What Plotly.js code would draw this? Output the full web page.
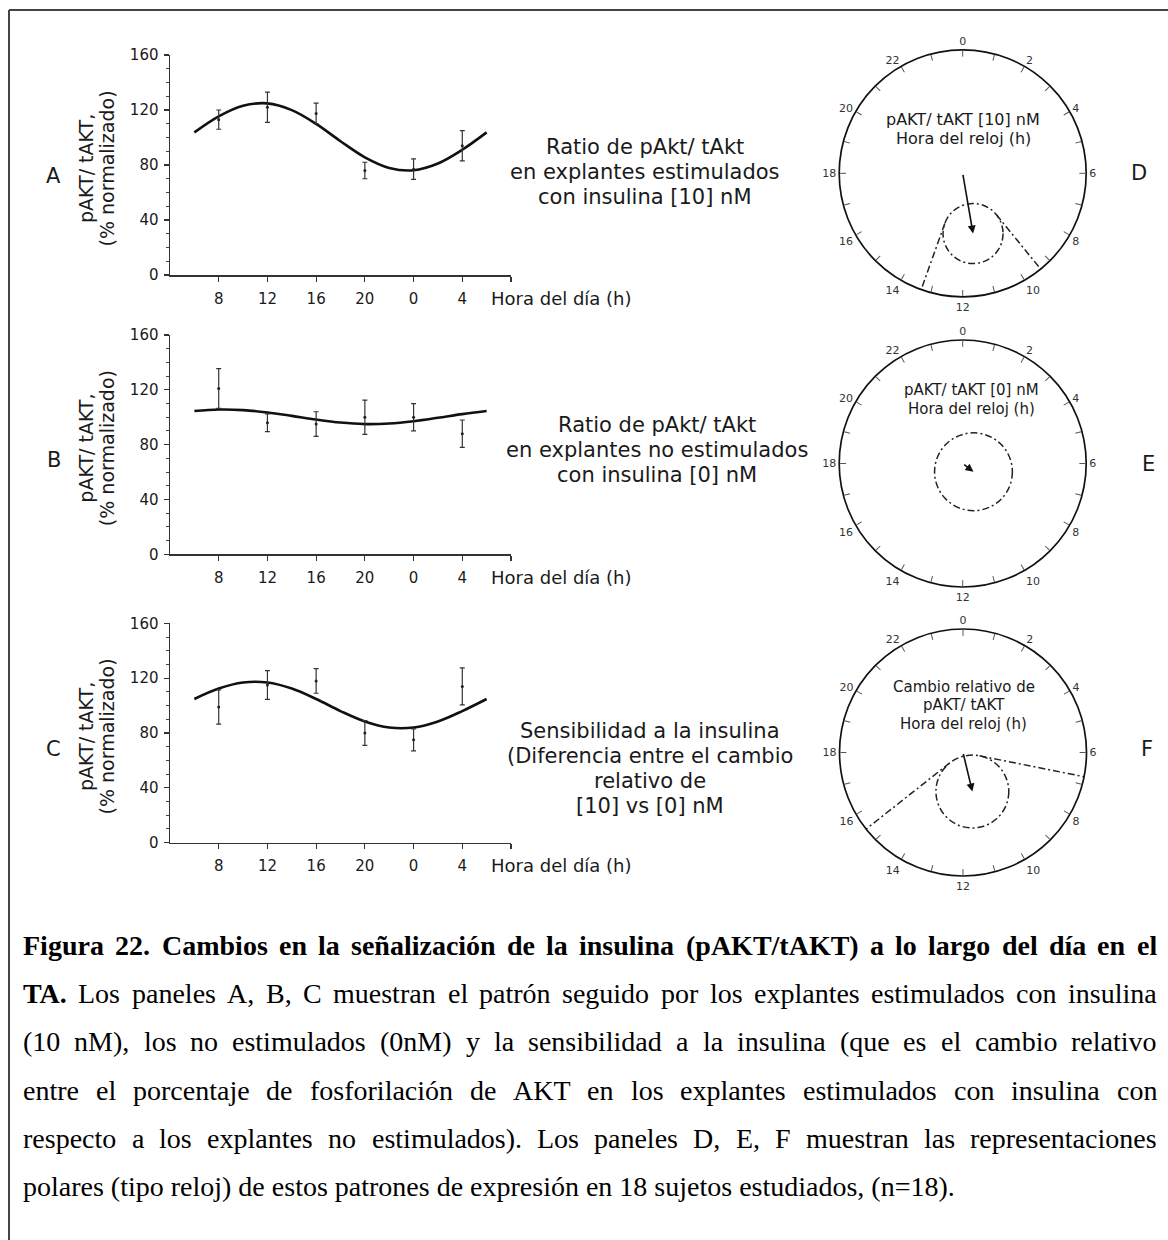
<!DOCTYPE html>
<html><head><meta charset="utf-8">
<script src="https://cdn.plot.ly/plotly-3.0.1.min.js"></script>
<style>html,body{margin:0;padding:0;background:#fff}#chart{width:1168px;height:1240px}</style>
</head><body><div id="chart"></div>
<script>
// ---------------- DATA ----------------
const sampleHours = [8, 12, 16, 20, 24, 28];
const hourLabels = ['8', '12', '16', '20', '0', '4'];
const fitHours = [6, 8, 10, 12, 14, 16, 18, 20, 22, 24, 26, 28, 30];

const fitA = [103.7, 115.4, 123.1, 124.8, 119.9, 109.9, 97.3, 85.6, 77.9, 76.2, 81.1, 91.1, 103.7];
const fitB = [104.5, 105.6, 105.2, 103.5, 101.0, 98.3, 96.1, 95.0, 95.4, 97.1, 99.6, 102.3, 104.5];
const fitC = [104.8, 112.4, 116.8, 116.8, 112.4, 104.8, 96.0, 88.4, 84.0, 84.0, 88.4, 96.0, 104.8];

const meanA = [113, 122, 117.5, 76, 77, 94];
const errA  = [7, 11, 7.5, 6, 7.5, 11];
const meanB = [121, 96, 95, 100, 100, 88];
const errB  = [14.5, 6.5, 9, 12.5, 10, 10];
const meanC = [99, 115, 118, 80, 75, 114];
const errC  = [12.5, 10.5, 9, 9, 8, 13.5];

const yTicks = [0, 40, 80, 120, 160];
const panelLetters = ['A', 'B', 'C'];
const yTitle1 = 'pAKT/ tAKT,';
const yTitle2 = '(% normalizado)';
const xTitle = 'Hora del día (h)';
const panelTexts = [
  ['Ratio de pAkt/ tAkt', 'en explantes estimulados', 'con insulina [10] nM'],
  ['Ratio de pAkt/ tAkt', 'en explantes no estimulados', 'con insulina [0] nM'],
  ['Sensibilidad a la insulina', '(Diferencia entre el cambio', 'relativo de', '[10] vs [0] nM']
];

// clock (polar) panels
const clockLetters = ['D', 'E', 'F'];
const clockHours = [0,1,2,3,4,5,6,7,8,9,10,11,12,13,14,15,16,17,18,19,20,21,22,23];
const clockHourText = ['0','','2','','4','','6','','8','','10','','12','','14','','16','','18','','20','','22',''];
const clockPhaseH = [11.35, 8.5, 11.1];     // acrophase (clock hour)
const clockLength = [0.495, 0.11, 0.325];   // vector length (fraction of radius)
const clockConf   = [0.243, 0.315, 0.295];  // confidence circle radius
const clockTexts = [
  ['pAKT/ tAKT [10] nM', 'Hora del reloj (h)'],
  ['pAKT/ tAKT [0] nM', 'Hora del reloj (h)'],
  ['Cambio relativo de', 'pAKT/ tAKT', 'Hora del reloj (h)']
];

// caption
const captionLines = [
  'Figura 22. Cambios en la señalización de la insulina (pAKT/tAKT) a lo largo del día en el',
  'TA. Los paneles A, B, C muestran el patrón seguido por los explantes estimulados con insulina',
  '(10 nM), los no estimulados (0nM) y la sensibilidad a la insulina (que es el cambio relativo',
  'entre el porcentaje de fosforilación de AKT en los explantes estimulados con insulina con',
  'respecto a los explantes no estimulados). Los paneles D, E, F muestran las representaciones',
  'polares (tipo reloj) de estos patrones de expresión en 18 sujetos estudiados, (n=18).'
];
const captionBoldWords = [99, 1, 0, 0, 0, 0];
const captionJustify = [true, true, true, true, true, false];

// ---------------- LAYOUT GEOMETRY ----------------
const W = 1168, H = 1240;
const px = x => x / W, py = y => 1 - y / H;
const TXT = '#1a1a1a';
const FONT = 'DejaVu Sans';

const leftX0 = 170, leftX1 = 511;
const leftBoxes = [ {top: 55, bottom: 275}, {top: 335, bottom: 554.3}, {top: 623.3, bottom: 842.7} ];
const textCenters = [ {x: 645, ys: [146.7, 171.7, 196.7]}, {x: 657, ys: [425, 450, 475]}, {x: 650, ys: [731, 756, 781, 806]} ];
const letterPos = [ {x: 53.5, y: 176}, {x: 53.5, y: 460}, {x: 53.5, y: 749} ];

const clockCenters = [ {x: 962.7, y: 173.3}, {x: 962.7, y: 463.5}, {x: 963, y: 752.5} ];
const R = 123.5;
const clockLetterPos = [ {x: 1139, y: 173.5}, {x: 1148, y: 464}, {x: 1147, y: 749} ];
const clockTextPos = [ {x: 963, ys: [119.5, 139], size: 16}, {x: 971, ys: [390, 409], size: 15}, {x: 963.5, ys: [686.5, 705, 723.5], size: 15} ];

const traces = [];
const layout = {
  width: W, height: H, margin: {l: 0, r: 0, t: 0, b: 0},
  paper_bgcolor: '#fff', plot_bgcolor: 'rgba(0,0,0,0)',
  showlegend: false, font: {family: FONT, color: TXT},
  annotations: [], shapes: []
};

const fits = [fitA, fitB, fitC], means = [meanA, meanB, meanC], errs = [errA, errB, errC];

for (let i = 0; i < 3; i++) {
  const sfx = i === 0 ? '' : String(i + 1);
  const xa = 'x' + sfx, ya = 'y' + sfx;
  traces.push({x: fitHours, y: fits[i], mode: 'lines', line: {shape: 'spline', color: '#111', width: 2.6},
               xaxis: xa, yaxis: ya, hoverinfo: 'skip'});
  traces.push({x: sampleHours, y: means[i], mode: 'markers', marker: {size: 3, color: '#222'},
               error_y: {type: 'data', array: errs[i], visible: true, color: '#333', thickness: 1.2, width: 2.5},
               xaxis: xa, yaxis: ya, hoverinfo: 'skip'});
  const b = leftBoxes[i];
  layout['xaxis' + sfx] = {
    domain: [px(leftX0), px(leftX1)], range: [4, 32], anchor: ya,
    tickmode: 'array', tickvals: sampleHours.concat([32]), ticktext: hourLabels.concat(['']),
    ticks: 'outside', ticklen: 5, tickwidth: 1.2, tickcolor: '#333',
    showline: true, linecolor: '#333', linewidth: 1.5, showgrid: false, zeroline: false,
    tickfont: {family: FONT, size: 15, color: TXT}, ticklabelstandoff: 4, fixedrange: true
  };
  layout['yaxis' + sfx] = {
    domain: [py(b.bottom), py(b.top)], range: [0, 160], anchor: xa,
    tickmode: 'array', tickvals: yTicks, ticks: 'outside', ticklen: 5, tickwidth: 1.2, tickcolor: '#333',
    minor: {dtick: 10, tick0: 0, ticks: 'outside', ticklen: 3, tickwidth: 1, tickcolor: '#444'},
    showline: true, linecolor: '#333', linewidth: 1.5, showgrid: false, zeroline: false,
    tickfont: {family: FONT, size: 15, color: TXT}, ticklabelstandoff: 2, fixedrange: true
  };
  const mid = (b.top + b.bottom) / 2 + 4;
  layout.annotations.push({xref: 'paper', yref: 'paper', x: px(86), y: py(mid), text: yTitle1, textangle: -90,
    showarrow: false, xanchor: 'center', yanchor: 'middle', font: {size: 19, color: TXT}});
  layout.annotations.push({xref: 'paper', yref: 'paper', x: px(106.5), y: py(mid), text: yTitle2, textangle: -90,
    showarrow: false, xanchor: 'center', yanchor: 'middle', font: {size: 19, color: TXT}});
  layout.annotations.push({xref: 'paper', yref: 'paper', x: px(489), y: py(b.bottom + 23), text: xTitle,
    showarrow: false, xanchor: 'left', yanchor: 'middle', font: {size: 18, color: TXT}});
  layout.annotations.push({xref: 'paper', yref: 'paper', x: px(letterPos[i].x), y: py(letterPos[i].y), text: panelLetters[i],
    showarrow: false, xanchor: 'center', yanchor: 'middle', font: {size: 21, color: TXT}});
  panelTexts[i].forEach((t, j) => layout.annotations.push({xref: 'paper', yref: 'paper', x: px(textCenters[i].x),
    y: py(textCenters[i].ys[j]), text: t, showarrow: false, xanchor: 'center', yanchor: 'middle', font: {size: 21, color: TXT}}));
}

// ---------------- CLOCKS ----------------
const DASH = '7px,3px,2px,3px';
for (let i = 0; i < 3; i++) {
  const c = clockCenters[i];
  const pname = i === 0 ? 'polar' : 'polar' + (i + 1);
  const ovX = 'x' + (i + 4), ovY = 'y' + (i + 4);
  const dx = [px(c.x - R), px(c.x + R)], dy = [py(c.y + R), py(c.y - R)];
  layout[pname] = {
    domain: {x: dx, y: dy}, bgcolor: 'rgba(0,0,0,0)',
    radialaxis: {visible: false, range: [0, 1]},
    angularaxis: {rotation: 90, direction: 'clockwise', tickmode: 'array',
      tickvals: clockHours.map(h => h * 15), ticktext: clockHourText,
      ticks: 'inside', ticklen: 6, tickwidth: 1, tickcolor: '#555',
      linecolor: '#111', linewidth: 1.7, showgrid: false,
      tickfont: {family: FONT, size: 11, color: '#333'}}
  };
  // anchor trace so every polar subplot is drawn
  traces.push({type: 'scatterpolar', subplot: pname, r: [0], theta: [0], mode: 'markers',
    marker: {opacity: 0, size: 1}, hoverinfo: 'skip'});
  layout['xaxis' + (i + 4)] = {domain: dx, range: [-1, 1], anchor: ovY, visible: false, fixedrange: true};
  layout['yaxis' + (i + 4)] = {domain: dy, range: [-1, 1], anchor: ovX, visible: false, fixedrange: true};
  traces.push({x: [0], y: [0], mode: 'markers', marker: {opacity: 0, size: 1}, xaxis: ovX, yaxis: ovY, hoverinfo: 'skip'});

  const th = clockPhaseH[i] * 15, L = clockLength[i], r = clockConf[i];
  const tipX = L * Math.sin(th * Math.PI / 180), tipY = L * Math.cos(th * Math.PI / 180);
  // confidence circle
  layout.shapes.push({type: 'circle', xref: ovX, yref: ovY, x0: tipX - r, x1: tipX + r, y0: tipY - r, y1: tipY + r,
    line: {color: '#222', width: 1.5, dash: DASH}, layer: 'above'});
  // tangent (radial) lines
  if (r < L) {
    const half = Math.asin(r / L) * 180 / Math.PI;
    const d = Math.sqrt(L * L - r * r);
    [th - half, th + half].forEach(a => traces.push({type: 'scatterpolar', subplot: pname, r: [d, 1], theta: [a, a],
      mode: 'lines', line: {color: '#222', width: 1.5, dash: DASH}, hoverinfo: 'skip'}));
  }
  // mean vector arrow
  layout.annotations.push({xref: ovX, yref: ovY, axref: ovX, ayref: ovY, x: tipX, y: tipY, ax: 0, ay: 0,
    showarrow: true, arrowhead: 2, arrowsize: 1, arrowwidth: 1.6, arrowcolor: '#111', text: '', standoff: 0});
  const tp = clockTextPos[i];
  clockTexts[i].forEach((t, j) => layout.annotations.push({xref: 'paper', yref: 'paper', x: px(tp.x), y: py(tp.ys[j]),
    text: t, showarrow: false, xanchor: 'center', yanchor: 'middle', font: {size: tp.size, color: TXT}}));
  layout.annotations.push({xref: 'paper', yref: 'paper', x: px(clockLetterPos[i].x), y: py(clockLetterPos[i].y),
    text: clockLetters[i], showarrow: false, xanchor: 'center', yanchor: 'middle', font: {size: 21, color: TXT}});
}

// ---------------- FRAME ----------------
layout.shapes.push({type: 'line', xref: 'paper', yref: 'paper', x0: px(9), x1: 1, y0: py(10), y1: py(10), line: {color: '#444', width: 2}});
layout.shapes.push({type: 'line', xref: 'paper', yref: 'paper', x0: px(9), x1: px(9), y0: py(10), y1: 0, line: {color: '#444', width: 2}});

// ---------------- CAPTION (justified) ----------------
const CAP_SIZE = 28, CAP_L = 22, CAP_R = 1156;
const capY = [948, 996.3, 1044.6, 1093, 1141.2, 1189.5];
const ctx = document.createElement('canvas').getContext('2d');
const capFamily = '"Liberation Serif"';
function wordWidth(w, bold) { ctx.font = (bold ? 'bold ' : '') + CAP_SIZE + 'px ' + capFamily; return ctx.measureText(w).width; }
captionLines.forEach((line, i) => {
  const y = py(capY[i] - 3);
  if (!captionJustify[i]) {
    layout.annotations.push({xref: 'paper', yref: 'paper', x: px(CAP_L), y: y, text: line, showarrow: false,
      xanchor: 'left', yanchor: 'middle', borderpad: 0, font: {family: 'Liberation Serif', size: CAP_SIZE, color: '#000'}});
    return;
  }
  const words = line.split(' ');
  const bolds = words.map((w, j) => j < captionBoldWords[i]);
  const widths = words.map((w, j) => wordWidth(w, bolds[j]));
  const total = widths.reduce((a, b) => a + b, 0);
  const gap = (CAP_R - CAP_L - total) / (words.length - 1);
  let x = CAP_L;
  words.forEach((w, j) => {
    layout.annotations.push({xref: 'paper', yref: 'paper', x: px(x), y: y, text: bolds[j] ? '<b>' + w + '</b>' : w,
      showarrow: false, xanchor: 'left', yanchor: 'middle', borderpad: 0,
      font: {family: 'Liberation Serif', size: CAP_SIZE, color: '#000'}});
    x += widths[j] + gap;
  });
});

Plotly.newPlot('chart', traces, layout, {staticPlot: true, displayModeBar: false});
</script></body></html>
